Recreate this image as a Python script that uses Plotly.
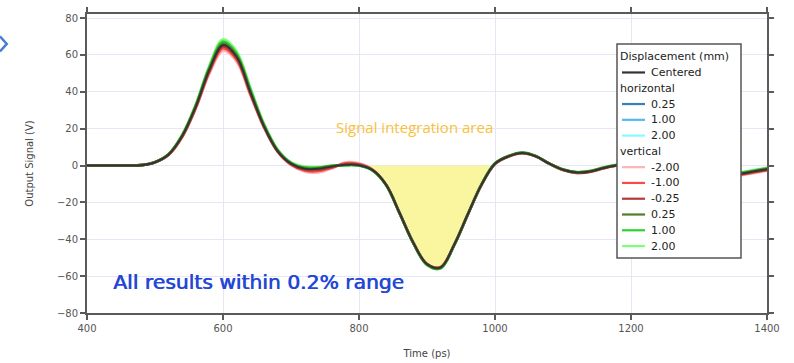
import plotly.graph_objects as go

# ---- data ----
time_ps = list(range(400, 1401, 20))

centered = [0, 0, 0, 0, 0.2, 1.8, 6, 16, 32, 52,
            65.3, 59, 40, 21.5, 8, 1, -1.8, -1.8, -0.5, 0.4,
            0.2, -2.5, -10.5, -26, -42, -53.5, -55.3, -43, -26.5, -10.5,
            1, 5, 6.8, 5, 1, -2.3, -3.8, -3.2, -1.3, 0.2,
            1, 0.8, -0.3, -1.8, -3.2, -4, -4.6, -4.9, -4.5, -3.3, -2]

# horizontal displacements are indistinguishable from the centered curve
h_025 = list(centered)
h_100 = list(centered)
h_200 = list(centered)

v_m200 = [0, 0, 0, 0, 0.2, 1.7, 5.7, 15.3, 30.8, 49.8,
          62.2, 56.3, 38.3, 20.8, 7.5, 0.2, -3.3, -3.8, -1.6, 1.7,
          1.2, -2.2, -10.5, -26.2, -42, -53.3, -55, -43, -26.7, -10.7,
          0.8, 4.8, 6.6, 5, 1, -2.5, -4.1, -3.5, -1.6, 0,
          0.8, 0.6, -0.6, -2.2, -3.6, -4.6, -5.3, -5.8, -5.4, -4.2, -2.8]
v_m100 = [0, 0, 0, 0, 0.2, 1.75, 5.8, 15.6, 31.3, 50.8,
          63.5, 57.5, 39, 21.1, 7.7, 0.6, -2.7, -3, -1.2, 1.2,
          0.8, -2.3, -10.5, -26.1, -42, -53.4, -55.1, -43, -26.6, -10.6,
          0.9, 4.9, 6.7, 5, 1, -2.4, -4, -3.4, -1.5, 0.1,
          0.9, 0.7, -0.5, -2, -3.4, -4.3, -5, -5.4, -5, -3.8, -2.5]
v_m025 = [0, 0, 0, 0, 0.2, 1.8, 5.9, 15.8, 31.7, 51.5,
          64.6, 58.4, 39.6, 21.3, 7.9, 0.8, -2.2, -2.3, -0.8, 0.7,
          0.4, -2.4, -10.5, -26, -42, -53.5, -55.2, -43, -26.5, -10.5,
          1, 5, 6.8, 5, 1, -2.3, -3.9, -3.3, -1.4, 0.2,
          1, 0.8, -0.4, -1.9, -3.3, -4.1, -4.8, -5.1, -4.7, -3.5, -2.2]
v_p025 = [0, 0, 0, 0, 0.2, 1.8, 6.1, 16.2, 32.3, 52.6,
          66.1, 59.7, 40.6, 21.8, 8.2, 1.2, -1.5, -1.5, -0.3, 0.3,
          0.1, -2.6, -10.6, -26.1, -42.1, -53.7, -55.5, -43.1, -26.5, -10.4,
          1.1, 5.1, 6.9, 5.1, 1, -2.2, -3.7, -3.1, -1.2, 0.3,
          1.1, 0.9, -0.2, -1.7, -3.1, -3.9, -4.4, -4.7, -4.3, -3.1, -1.8]
v_p100 = [0, 0, 0, 0, 0.2, 1.85, 6.2, 16.5, 32.8, 53.5,
          67.2, 60.8, 41.6, 22.4, 8.6, 1.5, -1, -1.1, -0.1, 0.2,
          0, -2.7, -10.7, -26.2, -42.2, -53.9, -55.7, -43.2, -26.5, -10.3,
          1.2, 5.2, 7, 5.2, 1, -2.1, -3.6, -3, -1.1, 0.4,
          1.2, 1, -0.1, -1.5, -2.9, -3.7, -4.2, -4.4, -4, -2.8, -1.5]
v_p200 = [0, 0, 0, 0, 0.2, 1.9, 6.3, 16.8, 33.3, 54.3,
          68.5, 62, 42.5, 23, 9, 1.8, -0.6, -0.8, 0, 0.2,
          0, -2.8, -10.8, -26.3, -42.3, -54.1, -55.9, -43.3, -26.5, -10.2,
          1.3, 5.3, 7.1, 5.3, 1, -2, -3.5, -2.9, -1, 0.5,
          1.3, 1.1, 0, -1.4, -2.7, -3.5, -3.9, -4.1, -3.7, -2.5, -1.2]

legend_title = "Displacement (mm)"
centered_label = "Centered"
horiz_title = "horizontal"
vert_title = "vertical"
horiz_labels = ["0.25", "1.00", "2.00"]
vert_labels = ["-2.00", "-1.00", "-0.25", "0.25", "1.00", "2.00"]

centered_color = "#333333"
h_colors = ["#3a7fb6", "#55b9ee", "#86fbff"]
v_colors = ["#ffb3b3", "#ff4848", "#b23a3a", "#4e7d2e", "#2fd12f", "#7cff7c"]

fig = go.Figure()

# integration area (between the centered curve and zero where it is negative)
area_x = [t for t in time_ps if 800 <= t <= 1000]
area_y = [min(v, 0) for t, v in zip(time_ps, centered) if 800 <= t <= 1000]
fig.add_trace(go.Scatter(x=area_x, y=area_y, mode="lines", fill="tozeroy",
                         fillcolor="rgba(250,245,150,0.9)",
                         line=dict(width=0, shape="spline"),
                         showlegend=False, hoverinfo="skip"))

LW = 2.6
h_series = [h_025, h_100, h_200]
for ys, lab, col in zip(h_series, horiz_labels, h_colors):
    fig.add_trace(go.Scatter(x=time_ps, y=ys, mode="lines", name=f"horizontal {lab}",
                             line=dict(color=col, width=LW, shape="spline"),
                             showlegend=False))

v_series = [v_m200, v_m100, v_m025, v_p025, v_p100, v_p200]
draw_order = [0, 5, 1, 4, 2, 3]
for i in draw_order:
    fig.add_trace(go.Scatter(x=time_ps, y=v_series[i], mode="lines",
                             name=f"vertical {vert_labels[i]}",
                             line=dict(color=v_colors[i], width=LW, shape="spline"),
                             showlegend=False))

fig.add_trace(go.Scatter(x=time_ps, y=centered, mode="lines", name=centered_label,
                         line=dict(color=centered_color, width=2, shape="spline"),
                         showlegend=False))

axis_common = dict(showline=True, linecolor="#5a5a5a", linewidth=2,
                   mirror="ticks", ticks="outside", ticklen=5, tickwidth=1.5,
                   tickcolor="#5a5a5a", showgrid=True, gridcolor="#e6e6f6",
                   gridwidth=1, zeroline=False, automargin=False,
                   tickfont=dict(family="DejaVu Sans", size=10, color="#555555"))

# ---- legend box drawn as layout shapes/annotations ----
PL, PR, PT, PB = 87, 767, 14, 313          # plot-area pixel edges
def px(xp):
    return (xp - PL) / (PR - PL)
def py(yp):
    return (PB - yp) / (PB - PT)

shapes = [dict(type="rect", xref="paper", yref="paper", layer="above",
               x0=px(617), x1=px(741), y0=py(258), y1=py(44),
               fillcolor="white", line=dict(color="#555555", width=1.5))]
annotations = []
lfont = dict(family="DejaVu Sans", size=11, color="#222222")
rows = [("head", legend_title, None), ("item", centered_label, centered_color),
        ("head", horiz_title, None)]
rows += [("item", l, c) for l, c in zip(horiz_labels, h_colors)]
rows += [("head", vert_title, None)]
rows += [("item", l, c) for l, c in zip(vert_labels, v_colors)]
ROW0, ROWH = 56.7, 15.78
for k, (kind, text, col) in enumerate(rows):
    yc = ROW0 + k * ROWH
    if kind == "head":
        annotations.append(dict(x=px(618), y=py(yc), xref="paper", yref="paper",
                                xanchor="left", yanchor="middle", text=text,
                                showarrow=False, font=lfont))
    else:
        shapes.append(dict(type="line", xref="paper", yref="paper", layer="above",
                           x0=px(622), x1=px(645), y0=py(yc), y1=py(yc),
                           line=dict(color=col, width=2.2)))
        annotations.append(dict(x=px(649), y=py(yc), xref="paper", yref="paper",
                                xanchor="left", yanchor="middle", text=text,
                                showarrow=False, font=lfont))

annotations += [
    dict(x=882, y=21, xref="x", yref="y", text="Signal integration area",
         showarrow=False, font=dict(family="Open Sans", size=15, color="#f8c23a")),
    dict(x=435, y=-63, xref="x", yref="y", xanchor="left",
         text="All results within 0.2% range", showarrow=False,
         font=dict(family="DejaVu Sans", size=20.3, color="#2447d6",
                   shadow="0.7px 0px 0px #2447d6")),
]
shapes.append(dict(type="path", xref="paper", yref="paper",
                   path="M -0.128 0.925 L -0.118 0.9 L -0.128 0.875",
                   line=dict(color="#4a7fd0", width=2.5)))

fig.update_layout(
    width=794, height=363,
    margin=dict(l=PL, r=794 - PR, t=PT, b=363 - PB, autoexpand=False),
    paper_bgcolor="white", plot_bgcolor="white",
    xaxis=dict(range=[400, 1400], tickvals=[400, 600, 800, 1000, 1200, 1400],
               title=dict(text="Time (ps)", standoff=17,
                          font=dict(family="DejaVu Sans", size=10, color="#444")),
               **axis_common),
    yaxis=dict(range=[-80, 82.2], tickvals=[-80, -60, -40, -20, 0, 20, 40, 60, 80],
               title=dict(text="Output Signal (V)", standoff=21,
                          font=dict(family="DejaVu Sans", size=10, color="#444")),
               **axis_common),
    showlegend=False,
    annotations=annotations,
    shapes=shapes,
)

fig.write_html("out.html")
